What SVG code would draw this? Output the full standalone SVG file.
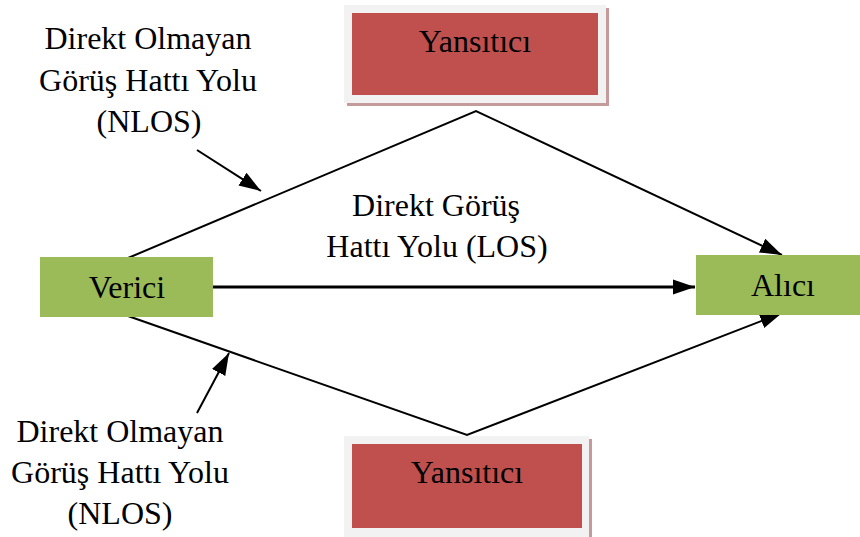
<svg xmlns="http://www.w3.org/2000/svg" width="860" height="537" viewBox="0 0 860 537">
<style>
.green{fill:#9BBB59}
.frame{fill:#F2F2F2}
.shadow{fill:#C49A9A}
.red{fill:#C0504D}
.ln{fill:none;stroke:#000;stroke-width:2}
.los{fill:none;stroke:#000;stroke-width:3}
</style>
<defs>
<marker id="ah" markerUnits="userSpaceOnUse" markerWidth="24" markerHeight="20" viewBox="0 0 24 20" refX="22" refY="10" orient="auto">
<path d="M0,2.5 L22,10 L0,17.5 Z" fill="#000"/>
</marker>
</defs>
<g id="connectors">
<polyline class="ln" points="128,258 476,111 782,255" marker-end="url(#ah)"/>
<polyline class="ln" points="128,316 467,435 782,313" marker-end="url(#ah)"/>
<line class="los" x1="213" y1="287" x2="695" y2="287" marker-end="url(#ah)"/>
<line class="ln" x1="197" y1="150" x2="261" y2="191" marker-end="url(#ah)"/>
<line class="ln" x1="197" y1="413" x2="229" y2="353" marker-end="url(#ah)"/>
</g>
<g font-family="Liberation Serif, Tinos, DejaVu Serif, serif" font-size="32" text-anchor="middle" fill="#000">
<g id="reflector-top">
<rect class="shadow" x="347" y="8" width="262" height="98"/>
<rect class="frame" x="344" y="5" width="262" height="98"/>
<rect class="red" x="352" y="13" width="246" height="82"/>
<text x="475" y="52">Yansıtıcı</text>
</g>
<g id="reflector-bottom">
<rect class="shadow" x="347" y="439" width="245" height="100"/>
<rect class="frame" x="344" y="436" width="245" height="101"/>
<rect class="red" x="352" y="444" width="230" height="84"/>
<text x="467" y="483">Yansıtıcı</text>
</g>
<g id="verici">
<rect class="green" x="40" y="257" width="173" height="60"/>
<text x="127" y="298">Verici</text>
</g>
<g id="alici">
<rect class="green" x="696" y="255" width="164" height="60"/>
<text x="783" y="296">Alıcı</text>
</g>
<g id="label-nlos-top">
<text x="148" y="49">Direkt Olmayan</text>
<text x="148" y="91">Görüş Hattı Yolu</text>
<text x="149" y="132">(NLOS)</text>
</g>
<g id="label-nlos-bottom">
<text x="120" y="442">Direkt Olmayan</text>
<text x="120" y="483">Görüş Hattı Yolu</text>
<text x="120" y="524">(NLOS)</text>
</g>
<g id="label-los">
<text x="436" y="216">Direkt Görüş</text>
<text x="437" y="257">Hattı Yolu (LOS)</text>
</g>
</g>
</svg>
